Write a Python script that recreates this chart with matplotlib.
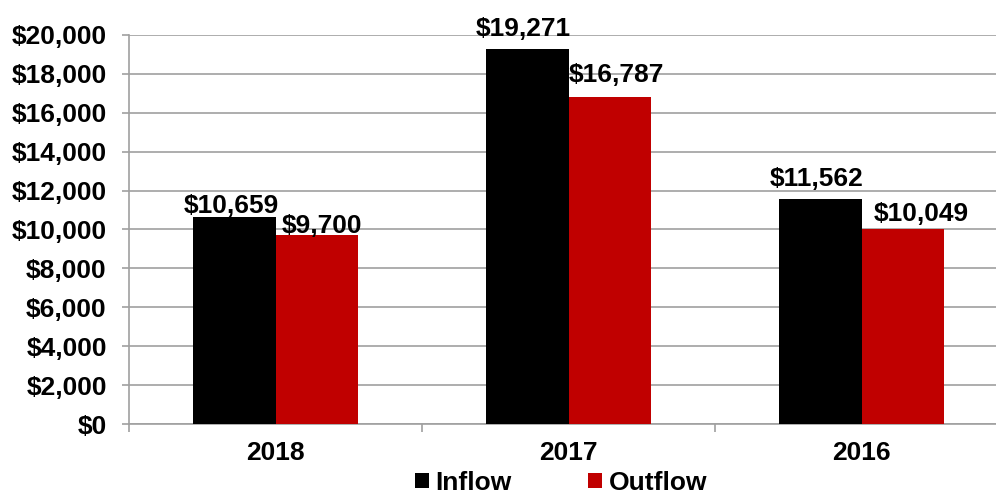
import matplotlib
matplotlib.use("Agg")
import matplotlib.pyplot as plt
from matplotlib.patches import Patch
import numpy as np

categories = ["2018", "2017", "2016"]
inflow = [10659, 19271, 11562]
outflow = [9700, 16787, 10049]
series_names = ["Inflow", "Outflow"]
y_ticks = [0, 2000, 4000, 6000, 8000, 10000, 12000, 14000, 16000, 18000, 20000]

# label nudges in pixels (x shift, gap above bar top) -- styling only
in_nudge = [(-3, 4), (-4, 13), (-3, 13)]
out_nudge = [(5, 2), (6, 15), (18, 8)]

plt.rcParams['font.family'] = ['Liberation Sans', 'DejaVu Sans']
plt.rcParams['font.weight'] = 'bold'

W, H = 996, 495
fig = plt.figure(figsize=(W / 100, H / 100), dpi=100)
ax = fig.add_axes([129 / W, (H - 424) / H, (1008 - 129) / W, (424 - 35) / H])

x = np.arange(len(categories))
bw = 0.283
c_in, c_out = "#000000", "#C00000"
b1 = ax.bar(x - bw / 2, inflow, bw, color=c_in, zorder=3)
b2 = ax.bar(x + bw / 2, outflow, bw, color=c_out, zorder=3)

fs = 19
for bars, vals, nud in ((b1, inflow, in_nudge), (b2, outflow, out_nudge)):
    for r, v, (dx, dy) in zip(bars, vals, nud):
        ax.annotate(f"${v:,.0f}", (r.get_x() + r.get_width() / 2, v),
                    xytext=(dx, dy), textcoords="offset pixels",
                    ha="center", va="baseline", fontsize=fs,
                    fontweight="bold", zorder=5, annotation_clip=False)

ax.set_xlim(-0.5, len(categories) - 0.5)
ax.set_ylim(0, 20000)
ax.set_yticks(y_ticks)
ax.set_yticklabels([f"${t:,.0f}" for t in y_ticks], fontsize=fs, fontweight="bold")
ax.set_xticks(x)
ax.set_xticklabels(categories, fontsize=fs, fontweight="bold")
ax.set_xticks(np.arange(-0.5, len(categories) + 0.5, 1), minor=True)

gc = "#a0a0a0"
ax.yaxis.grid(True, color=gc, linewidth=1.2, zorder=0)
ax.set_axisbelow(True)
for s in ("top", "right"):
    ax.spines[s].set_visible(False)
for s in ("left", "bottom"):
    ax.spines[s].set_color(gc)
    ax.spines[s].set_linewidth(1.2)
ax.tick_params(axis="y", which="major", length=5, width=1.2, color=gc, pad=11)
ax.tick_params(axis="x", which="major", length=0, pad=12)
ax.tick_params(axis="x", which="minor", length=6, width=1.2, color=gc)

handles = [Patch(facecolor=c_in, edgecolor="none"), Patch(facecolor=c_out, edgecolor="none")]
fig.legend(handles, series_names, loc="lower center", bbox_to_anchor=(561 / W, 0.0),
           ncol=2, frameon=False, prop={"size": fs, "weight": "bold"},
           handlelength=0.53, handleheight=0.53, handletextpad=0.25,
           columnspacing=2.9, borderpad=0, borderaxespad=0)

fig.savefig("out.png", dpi=100)
